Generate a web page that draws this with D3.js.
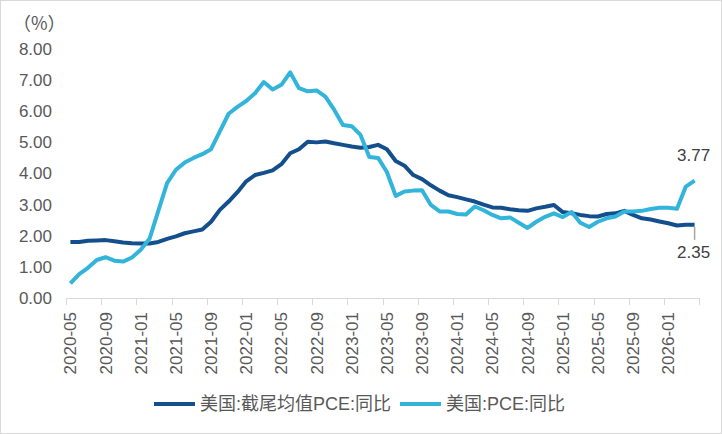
<!DOCTYPE html>
<html>
<head>
<meta charset="utf-8">
<script src="https://cdn.jsdelivr.net/npm/d3@7"></script>
<style>
  body { margin: 0; background: #fff; }
  text { font-family: "Liberation Sans", Arial, "Noto Sans CJK SC", sans-serif; }
</style>
</head>
<body>
<svg id="chart" width="722" height="434"></svg>
<script>
let svgWidth = 722;
let svgHeight = 434;
let margin = {top: 49, bottom: 136, left: 66, right: 23};

let months = [
  '2020-05','2020-06','2020-07','2020-08','2020-09','2020-10','2020-11','2020-12',
  '2021-01','2021-02','2021-03','2021-04','2021-05','2021-06','2021-07','2021-08','2021-09','2021-10','2021-11','2021-12',
  '2022-01','2022-02','2022-03','2022-04','2022-05','2022-06','2022-07','2022-08','2022-09','2022-10','2022-11','2022-12',
  '2023-01','2023-02','2023-03','2023-04','2023-05','2023-06','2023-07','2023-08','2023-09','2023-10','2023-11','2023-12',
  '2024-01','2024-02','2024-03','2024-04','2024-05','2024-06','2024-07','2024-08','2024-09','2024-10','2024-11','2024-12',
  '2025-01','2025-02','2025-03','2025-04','2025-05','2025-06','2025-07','2025-08','2025-09','2025-10','2025-11','2025-12',
  '2026-01','2026-02','2026-03','2026-04'
];
// 美国:截尾均值PCE:同比
let trimmedPce = [
  1.80,1.80,1.84,1.85,1.86,1.82,1.78,1.76,
  1.75,1.75,1.80,1.90,1.98,2.08,2.14,2.20,2.45,2.83,3.10,3.40,
  3.75,3.95,4.02,4.10,4.30,4.65,4.78,5.02,5.00,5.03,4.97,4.92,
  4.87,4.83,4.85,4.92,4.78,4.40,4.25,3.95,3.82,3.62,3.45,3.30,
  3.24,3.17,3.10,3.00,2.91,2.90,2.85,2.82,2.80,2.88,2.93,2.99,
  2.76,2.72,2.67,2.63,2.62,2.70,2.72,2.80,2.67,2.56,2.52,2.46,
  2.40,2.33,2.35,2.35
];
// 美国:PCE:同比
let pce = [
  0.47,0.77,0.97,1.22,1.31,1.20,1.17,1.30,
  1.55,1.90,2.80,3.69,4.12,4.35,4.50,4.62,4.78,5.35,5.92,6.14,
  6.33,6.58,6.94,6.70,6.85,7.25,6.74,6.64,6.67,6.47,6.05,5.56,
  5.52,5.24,4.53,4.50,4.05,3.28,3.42,3.45,3.46,2.99,2.78,2.78,
  2.70,2.68,2.94,2.82,2.67,2.56,2.59,2.42,2.25,2.45,2.61,2.72,
  2.60,2.76,2.42,2.28,2.45,2.56,2.62,2.78,2.78,2.80,2.86,2.90,
  2.90,2.87,3.58,3.77
];
let yTicks = [0, 1, 2, 3, 4, 5, 6, 7, 8];
let xLabels = months.filter((d, i) => i % 4 === 0);
let seriesNames = ['美国:截尾均值PCE:同比', '美国:PCE:同比'];
let colors = ['#134f8c', '#33b4da'];

let width = svgWidth - margin.left - margin.right;
let height = svgHeight - margin.top - margin.bottom;

let xScale = d3.scaleBand().domain(months).range([0, width]).padding(0);
let yScale = d3.scaleLinear().domain([0, 8]).range([height, 0]);
let cx = (d) => xScale(d) + xScale.bandwidth() / 2;

let root = d3.select('#chart');
root.append('rect')
    .attr('x', 0.5).attr('y', 0.5)
    .attr('width', svgWidth - 1).attr('height', svgHeight - 1)
    .attr('fill', '#fff').attr('stroke', '#d9d9d9');
let svg = root.append('g').attr('transform', `translate(${margin.left},${margin.top})`);

drawAxis();
drawLines();
drawLabels();
drawLegend();

function drawAxis(){
    let yAxis = svg.append('g')
        .call(d3.axisLeft(yScale).tickValues(yTicks).tickFormat(d3.format('.2f')).tickSize(0).tickPadding(14));
    yAxis.select('.domain').remove();
    yAxis.selectAll('text')
        .attr('fill', '#595959')
        .style('font-size', '17px');

    svg.append('text')
        .attr('x', 13 - margin.left)
        .attr('y', 30 - margin.top)
        .attr('fill', '#595959')
        .style('font-size', '18px')
        .style('font-family', '"Noto Sans CJK SC", sans-serif')
        .text('（%）');

    let tickPos = months.filter((d, i) => i % 4 === 0).map((d) => xScale(d));
    tickPos.push(width);
    let xAxis = svg.append('g').attr('transform', `translate(0,${height})`);
    xAxis.append('line')
        .attr('x1', 0).attr('x2', width)
        .attr('y1', 0.5).attr('y2', 0.5)
        .attr('stroke', '#d9d9d9');
    xAxis.selectAll('.tick')
        .data(tickPos)
        .enter()
        .append('line')
        .attr('x1', (d) => Math.round(d) + 0.5).attr('x2', (d) => Math.round(d) + 0.5)
        .attr('y1', 0).attr('y2', 7)
        .attr('stroke', '#d9d9d9');
    xAxis.selectAll('.label')
        .data(xLabels)
        .enter()
        .append('text')
        .attr('transform', (d) => `translate(${cx(d)},14) rotate(-90)`)
        .attr('dy', '0.35em')
        .attr('text-anchor', 'end')
        .attr('fill', '#595959')
        .style('font-size', '17px')
        .text((d) => d);
}

function drawLines(){
    let line = d3.line()
        .x((d, i) => cx(months[i]))
        .y((d) => yScale(d));
    [trimmedPce, pce].forEach(function(s, k){
        svg.append('path')
            .datum(s)
            .attr('fill', 'none')
            .attr('stroke', colors[k])
            .attr('stroke-width', 4)
            .attr('stroke-linejoin', 'round')
            .attr('d', line);
    });
}

function drawLabels(){
    let last = months[months.length - 1];
    let n = months.length - 1;
    svg.append('line')
        .attr('x1', cx(last)).attr('x2', cx(last))
        .attr('y1', yScale(trimmedPce[n]) + 2)
        .attr('y2', yScale(trimmedPce[n]) + 15)
        .attr('stroke', '#a6a6a6')
        .attr('stroke-width', 1.5);
    svg.append('text')
        .attr('x', cx(last) - 1)
        .attr('y', yScale(trimmedPce[n]) + 33)
        .attr('text-anchor', 'middle')
        .attr('fill', '#404040')
        .style('font-size', '17px')
        .text(d3.format('.2f')(trimmedPce[n]));
    svg.append('text')
        .attr('x', cx(last) - 1)
        .attr('y', yScale(pce[n]) - 20)
        .attr('text-anchor', 'middle')
        .attr('fill', '#404040')
        .style('font-size', '17px')
        .text(d3.format('.2f')(pce[n]));
}

function drawLegend(){
    let legend = root.append('g').attr('transform', 'translate(154,404)');
    let offsets = [0, 246];
    seriesNames.forEach(function(name, k){
        let g = legend.append('g').attr('transform', `translate(${offsets[k]},0)`);
        g.append('line')
            .attr('x1', 0).attr('x2', 41)
            .attr('y1', 0).attr('y2', 0)
            .attr('stroke', colors[k])
            .attr('stroke-width', 4);
        g.append('text')
            .attr('x', 46)
            .attr('y', 0)
            .attr('dy', '0.36em')
            .attr('fill', '#595959')
            .style('font-size', '18px')
            .text(name);
    });
}
</script>
</body>
</html>
